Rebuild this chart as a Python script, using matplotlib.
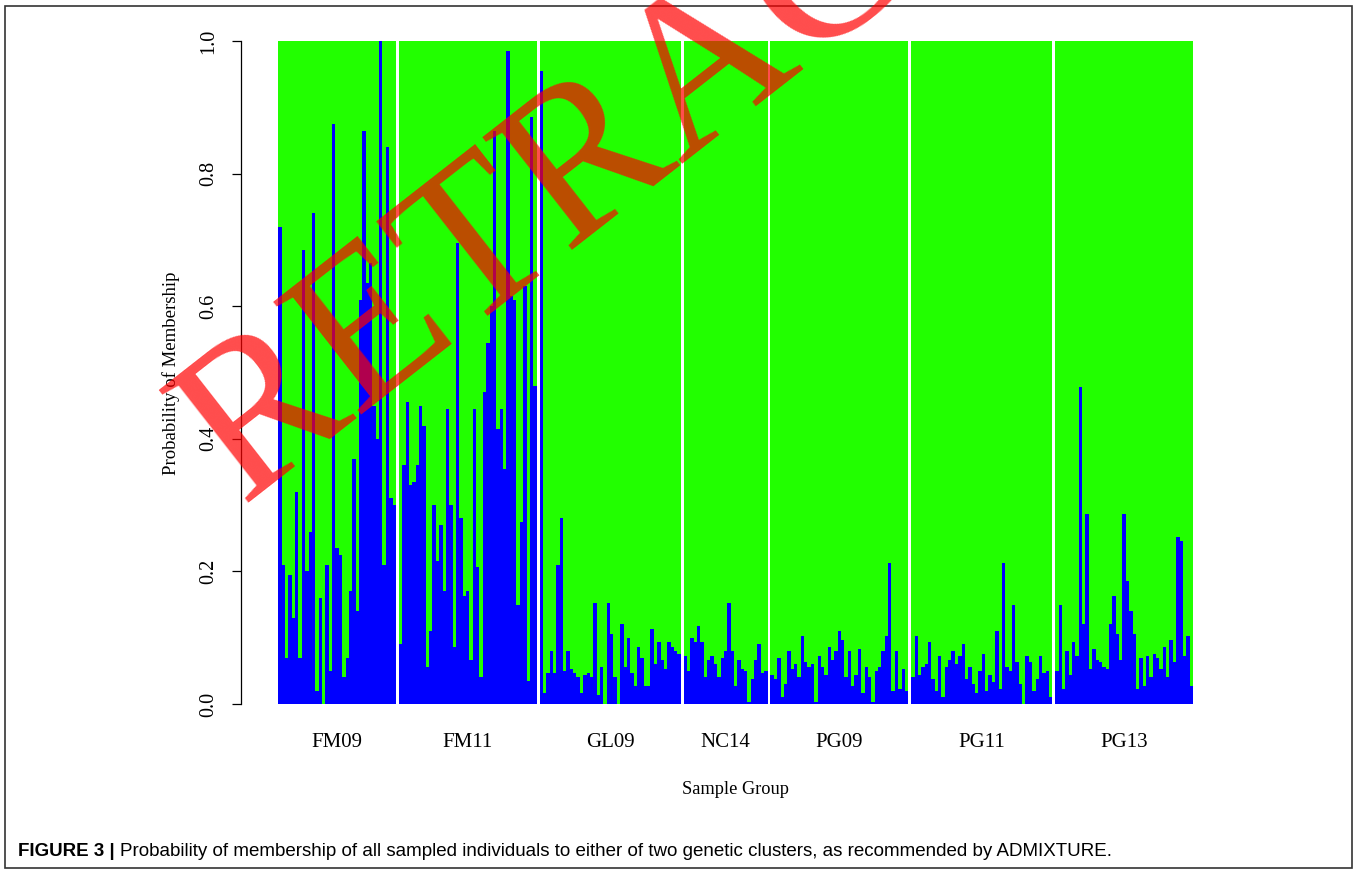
import numpy as np
import matplotlib.pyplot as plt
from matplotlib.patches import Rectangle

plt.rcParams['font.family'] = ['Liberation Serif', 'DejaVu Serif']

# ADMIXTURE K=2, probability of membership to the "blue" cluster
groups = ['FM09', 'FM11', 'GL09', 'NC14', 'PG09', 'PG11', 'PG13']

fm09 = [0.72, 0.21, 0.07, 0.195, 0.13, 0.32, 0.07, 0.685, 0.20, 0.26, 0.74, 0.02,
        0.16, 0.0, 0.21, 0.05, 0.875, 0.235, 0.225, 0.04, 0.07, 0.17, 0.37, 0.14,
        0.61, 0.865, 0.635, 0.665, 0.45, 0.40, 1.0, 0.21, 0.84, 0.31, 0.30]
fm11 = [0.09, 0.36, 0.455, 0.33, 0.335, 0.36, 0.45, 0.42, 0.056, 0.11, 0.30, 0.215,
        0.27, 0.17, 0.445, 0.30, 0.086, 0.695, 0.28, 0.163, 0.17, 0.066, 0.445, 0.206,
        0.04, 0.47, 0.545, 0.60, 0.865, 0.415, 0.445, 0.355, 0.985, 0.615, 0.61, 0.15,
        0.275, 0.63, 0.035, 0.885, 0.48]
gl09 = [0.955, 0.017, 0.047, 0.08, 0.047, 0.21, 0.28, 0.05, 0.08, 0.053, 0.047, 0.04,
        0.017, 0.043, 0.047, 0.04, 0.153, 0.013, 0.056, 0.0, 0.153, 0.106, 0.04, 0.0,
        0.12, 0.056, 0.1, 0.047, 0.027, 0.086, 0.07, 0.027, 0.027, 0.113, 0.06, 0.093,
        0.066, 0.053, 0.093, 0.086, 0.08, 0.075]
nc14 = [0.073, 0.05, 0.1, 0.093, 0.117, 0.093, 0.04, 0.066, 0.073, 0.06, 0.04, 0.07,
        0.08, 0.153, 0.08, 0.027, 0.066, 0.053, 0.05, 0.003, 0.037, 0.066, 0.09, 0.047,
        0.05]
pg09 = [0.043, 0.037, 0.07, 0.01, 0.03, 0.08, 0.053, 0.06, 0.04, 0.103, 0.063, 0.056,
        0.06, 0.003, 0.073, 0.056, 0.043, 0.086, 0.066, 0.08, 0.11, 0.096, 0.04, 0.08,
        0.027, 0.043, 0.083, 0.017, 0.056, 0.04, 0.003, 0.05, 0.056, 0.08, 0.103, 0.213,
        0.02, 0.08, 0.023, 0.053, 0.02]
pg11 = [0.04, 0.103, 0.043, 0.056, 0.06, 0.093, 0.037, 0.02, 0.073, 0.01, 0.056, 0.066,
        0.08, 0.06, 0.073, 0.09, 0.037, 0.056, 0.03, 0.017, 0.05, 0.076, 0.02, 0.043,
        0.033, 0.11, 0.023, 0.213, 0.056, 0.05, 0.15, 0.063, 0.03, 0.0, 0.073, 0.063,
        0.02, 0.037, 0.073, 0.047, 0.05, 0.01]
pg13 = [0.05, 0.15, 0.023, 0.08, 0.043, 0.093, 0.073, 0.478, 0.12, 0.286, 0.053, 0.083,
        0.066, 0.063, 0.056, 0.053, 0.12, 0.163, 0.106, 0.066, 0.286, 0.186, 0.14, 0.106,
        0.023, 0.07, 0.027, 0.073, 0.04, 0.076, 0.07, 0.053, 0.086, 0.04, 0.096, 0.063,
        0.252, 0.246, 0.073, 0.103, 0.027]
membership = [fm09, fm11, gl09, nc14, pg09, pg11, pg13]

BLUE = '#0000ff'
GREEN = '#22ff00'
GAP = 0.86

W, H = 1360, 873
fig = plt.figure(figsize=(W / 100, H / 100), dpi=100)
ax = fig.add_axes([278.3 / W, 1 - 704 / H, (1193 - 278.3) / W, 663 / H])

x0 = 0.0
centers = []
for vals in membership:
    n = len(vals)
    xs = x0 + np.arange(n)
    ax.bar(x0, 1.0, width=n, align='edge', color=GREEN, linewidth=0)
    ax.bar(xs, vals, width=1.0, align='edge', color=BLUE, linewidth=0)
    centers.append(x0 + n / 2)
    x0 += n + GAP

ax.set_xlim(0, x0 - GAP)
ax.set_ylim(0, 1)

for s in ['top', 'right', 'bottom']:
    ax.spines[s].set_visible(False)
ax.spines['left'].set_position(('outward', 26.6))
ax.spines['left'].set_bounds(0, 1)
ax.spines['left'].set_linewidth(0.9)

yt = np.arange(0, 1.01, 0.2)
ax.set_yticks(yt)
ax.set_yticklabels(['%.1f' % v for v in yt], rotation=90, va='center')
ax.tick_params(axis='y', direction='out', length=6.5, width=0.9, pad=10, labelsize=14.5)

ax.set_xticks(centers)
ax.set_xticklabels(groups)
ax.tick_params(axis='x', length=0, pad=21, labelsize=15)

fig.text(171 / W, 1 - 373 / H, 'Probability of Membership', rotation=90,
         ha='center', va='center', fontsize=13.5)
fig.text(736 / W, 1 - 789 / H, 'Sample Group', ha='center', va='center', fontsize=13.2)

# caption
cap_y = 1 - 852 / H
t1 = fig.text(18 / W, cap_y, 'FIGURE 3 |', family='Liberation Sans', fontweight='bold',
              fontsize=13.5, va='center')
fig.canvas.draw()
bb = t1.get_window_extent()
fig.text((bb.x1 + 5) / W, cap_y,
         'Probability of membership of all sampled individuals to either of two genetic '
         'clusters, as recommended by ADMIXTURE.',
         family='Liberation Sans', fontsize=13.5, va='center')

# border
fig.patches.append(Rectangle((5 / W, 5 / H), 1347 / W, 862 / H, transform=fig.transFigure,
                             fill=False, edgecolor='#333333', linewidth=1.2))

# watermark
fig.text(242 / W, 1 - 503 / H, 'RETRACTED', fontsize=157, color='red', alpha=0.7,
         rotation=38, rotation_mode='anchor', ha='left', va='baseline', zorder=10)

fig.savefig('out.png', dpi=100)
